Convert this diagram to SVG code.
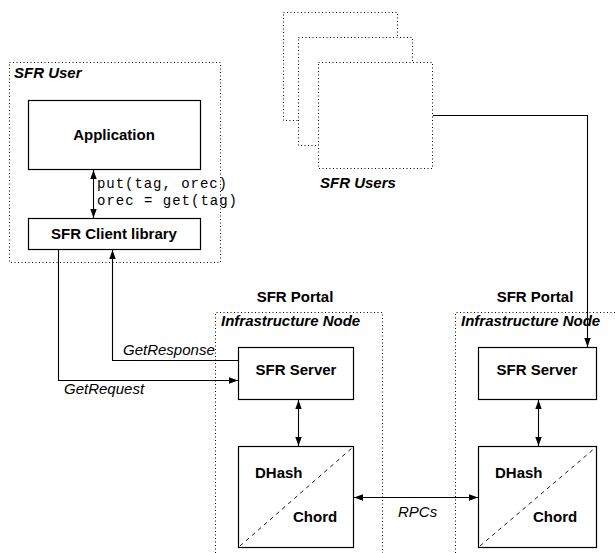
<svg xmlns="http://www.w3.org/2000/svg" width="615" height="553" viewBox="0 0 615 553">
<style>
.dot{fill:none;stroke:#000;stroke-width:1;stroke-dasharray:1 2.5}
.dotw{fill:#fff;stroke:#000;stroke-width:1;stroke-dasharray:1 2.5}
.box{fill:#fff;stroke:#000;stroke-width:1.2}
.ln{fill:none;stroke:#000;stroke-width:1.1}
.dash{fill:none;stroke:#000;stroke-width:0.9;stroke-dasharray:4 4}
.b{font-family:"Liberation Sans",Arial,sans-serif;font-size:15px;font-weight:bold}
.bi{font-family:"Liberation Sans",Arial,sans-serif;font-size:15px;font-weight:bold;font-style:italic}
.i{font-family:"Liberation Sans",Arial,sans-serif;font-size:15px;font-style:italic}
.m{font-family:"Liberation Mono","Courier New",monospace;font-size:14px}
.c{text-anchor:middle}
</style>
<defs>
<marker id="ah" markerWidth="10" markerHeight="8" refX="9" refY="4" orient="auto-start-reverse" markerUnits="userSpaceOnUse">
<path d="M0,0.8 L9,4 L0,7.2 Z" fill="#000"/>
</marker>
</defs>

<g id="sfr-user">
<rect class="dot" x="9.5" y="62.5" width="211" height="200"/>
<text class="bi" x="14" y="78">SFR User</text>
</g>
<g id="application">
<rect class="box" x="28.5" y="100.5" width="172" height="69"/>
<text class="b c" x="114" y="140">Application</text>
</g>
<g id="client-library">
<rect class="box" x="28.5" y="218.5" width="172" height="31"/>
<text class="b c" x="114" y="239">SFR Client library</text>
</g>
<g id="api-label">
<text class="m" x="97" y="188" textLength="130">put(tag, orec)</text>
<text class="m" x="97" y="205" textLength="140">orec = get(tag)</text>
</g>

<g id="sfr-users">
<rect class="dotw" x="283.5" y="12.5" width="114" height="108"/>
<rect class="dotw" x="298.5" y="37.5" width="114" height="108"/>
<rect class="dotw" x="318.5" y="62.5" width="114" height="106"/>
<text class="bi" x="320" y="188">SFR Users</text>
</g>

<g id="infra-left">
<text class="b c" x="295" y="302">SFR Portal</text>
<path class="dot" d="M215.5,560 V312.5 H382.5 V560"/>
<text class="bi" x="221" y="326">Infrastructure Node</text>
</g>
<g id="server-left">
<rect class="box" x="238.5" y="347.5" width="115" height="52"/>
<text class="b c" x="296" y="375">SFR Server</text>
</g>
<g id="dhash-left">
<rect class="box" x="238.5" y="446.5" width="115" height="101"/>
<line class="dash" x1="240" y1="546" x2="352" y2="448"/>
<text class="b" x="255" y="478">DHash</text>
<text class="b" x="293" y="522">Chord</text>
</g>

<g id="infra-right">
<text class="b c" x="535" y="302">SFR Portal</text>
<path class="dot" d="M455.5,560 V312.5 H620"/>
<text class="bi" x="461" y="326">Infrastructure Node</text>
</g>
<g id="server-right">
<rect class="box" x="478.5" y="347.5" width="118" height="52"/>
<text class="b c" x="537" y="375">SFR Server</text>
</g>
<g id="dhash-right">
<rect class="box" x="478.5" y="446.5" width="118" height="101"/>
<line class="dash" x1="480" y1="546" x2="595" y2="448"/>
<text class="b" x="495" y="478">DHash</text>
<text class="b" x="533" y="522">Chord</text>
</g>

<g id="connectors">
<line class="ln" x1="93.5" y1="170" x2="93.5" y2="218" marker-start="url(#ah)" marker-end="url(#ah)"/>
<path class="ln" d="M58.5,250 V380.5 H238" marker-end="url(#ah)"/>
<path class="ln" d="M238,360.5 H112.5 V250" marker-end="url(#ah)"/>
<path class="ln" d="M433,115.5 H587.5 V347" marker-end="url(#ah)"/>
<line class="ln" x1="298.5" y1="400" x2="298.5" y2="446" marker-start="url(#ah)" marker-end="url(#ah)"/>
<line class="ln" x1="538.5" y1="400" x2="538.5" y2="446" marker-start="url(#ah)" marker-end="url(#ah)"/>
<line class="ln" x1="354" y1="497.5" x2="478" y2="497.5" marker-start="url(#ah)" marker-end="url(#ah)"/>
<text class="i" x="123" y="355">GetResponse</text>
<text class="i" x="64" y="394">GetRequest</text>
<text class="i" x="398" y="517">RPCs</text>
</g>
</svg>
